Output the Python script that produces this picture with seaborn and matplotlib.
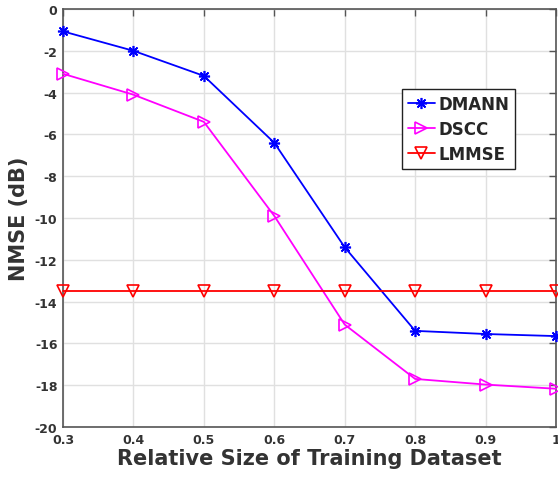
import matplotlib
matplotlib.use("Agg")
import matplotlib.pyplot as plt
import seaborn as sns
import pandas as pd

x_vals = [0.3, 0.4, 0.5, 0.6, 0.7, 0.8, 0.9, 1.0]
dmann = [-1.07, -2.0, -3.2, -6.4, -11.4, -15.4, -15.55, -15.65]
dscc = [-3.1, -4.1, -5.4, -9.9, -15.1, -17.7, -17.97, -18.17]
lmmse = [-13.47] * 8
series_names = ["DMANN", "DSCC", "LMMSE"]
x_ticks = [0.3, 0.4, 0.5, 0.6, 0.7, 0.8, 0.9, 1.0]
x_ticklabels = ["0.3", "0.4", "0.5", "0.6", "0.7", "0.8", "0.9", "1"]
y_ticks = list(range(-20, 1, 2))

sns.set_style("whitegrid")
plt.rcParams['font.family'] = ['DejaVu Sans']
plt.rcParams['font.weight'] = 'bold'

df = pd.DataFrame({
    "x": x_vals * 3,
    "y": dmann + dscc + lmmse,
    "series": sum([[n] * len(x_vals) for n in series_names], []),
})

fig = plt.figure(figsize=(5.58, 4.81), dpi=100)
ax = fig.add_axes([63/558, 1 - 428/481, (556-63)/558, (428-10)/481])

palette = {"DMANN": "#0000ff", "DSCC": "#ff00ff", "LMMSE": "#ff0000"}
markers = {"DMANN": (8, 2, 0), "DSCC": ">", "LMMSE": "v"}
for name in series_names:
    sub = df[df.series == name]
    sns.lineplot(data=sub, x="x", y="y", ax=ax, color=palette[name],
                 marker=markers[name], markersize=8,
                 markerfacecolor="none" if name != "DMANN" else palette[name],
                 markeredgecolor=palette[name], markeredgewidth=1.2,
                 linewidth=1.3, label=name, clip_on=False, zorder=3)

ax.set_xlim(0.3, 1.0)
ax.set_ylim(-20, 0)
ax.set_xticks(x_ticks)
ax.set_xticklabels(x_ticklabels)
ax.set_yticks(y_ticks)
ax.set_yticklabels([str(v) for v in y_ticks])
ax.grid(True, color="#e0e0e0", linewidth=1.0)
for s in ax.spines.values():
    s.set_color("#555555")
    s.set_linewidth(1.2)
ax.tick_params(direction="in", length=5, width=1, color="#555555",
               top=True, right=True, labelsize=9, labelcolor="#333333", pad=4)
for lab in ax.get_xticklabels() + ax.get_yticklabels():
    lab.set_fontweight("bold")
ax.set_xlabel("Relative Size of Training Dataset", fontsize=15, fontweight="bold", color="#333333", labelpad=2)
ax.set_ylabel("NMSE (dB)", fontsize=15, fontweight="bold", color="#333333", labelpad=4)

leg = ax.legend(loc="upper left", bbox_to_anchor=((402-63)/493, 1 - (90-10)/418),
                prop={"weight": "bold", "size": 12}, frameon=True, fancybox=False,
                handlelength=1.6, handletextpad=0.25, borderpad=0.35, labelspacing=0.42,
                borderaxespad=0)
leg.get_frame().set_edgecolor("#222222")
leg.get_frame().set_linewidth(1.0)
leg.get_frame().set_alpha(1)

fig.savefig("out.png", dpi=100, facecolor="white")
